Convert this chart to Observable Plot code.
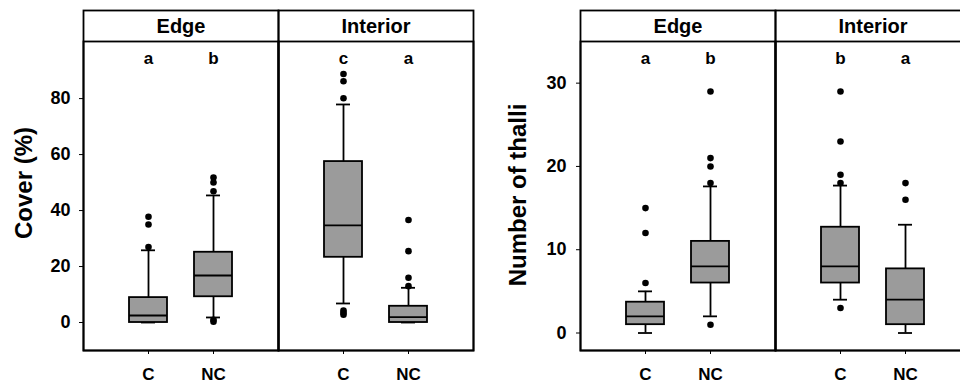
<!DOCTYPE html>
<html>
<head>
<meta charset="utf-8">
<script src="https://cdn.jsdelivr.net/npm/d3@7"></script>
<script src="https://cdn.jsdelivr.net/npm/@observablehq/plot@0.6"></script>
<style>
  html, body { margin: 0; padding: 0; background: #fff; }
  #wrap { position: relative; width: 960px; height: 384px; overflow: hidden; background: #fff; }
  #left { position: absolute; left: 0; top: 0; width: 480px; }
  #right { position: absolute; left: 480px; top: 0; width: 500px; }
  #wrap svg { max-width: none !important; }
</style>
</head>
<body>
<div id="wrap"><div id="left"></div><div id="right"></div></div>
<script>
// Panels and groups
const sites = ["Edge", "Interior"];
const treatments = ["C", "NC"];
// order of the stats arrays: Edge C, Edge NC, Interior C, Interior NC

// Left chart: Cover (%)
const coverTicks = [0, 20, 40, 60, 80];
const coverLow = [0, 1.8, 6.8, 0];
const coverQ1 = [0, 9.2, 23.3, 0];
const coverMed = [2.5, 16.8, 34.7, 1.9];
const coverQ3 = [8.9, 25.1, 57.5, 5.8];
const coverHigh = [25.8, 45.4, 77.9, 12.4];
const coverOutliers = [[27, 35, 37.8], [0.3, 1, 46.9, 50, 51.8], [2.8, 3.5, 4.3, 80.1, 86.2, 88.8], [13, 16, 25.5, 36.6]];
const coverLetters = ["a", "b", "c", "a"];

// Right chart: Number of thalli
const thalliTicks = [0, 10, 20, 30];
const thalliLow = [0, 2, 4, 0];
const thalliQ1 = [1, 6, 6, 1];
const thalliMed = [2, 8, 8, 4];
const thalliQ3 = [3.7, 11, 12.7, 7.7];
const thalliHigh = [5, 17.6, 17.7, 13];
const thalliOutliers = [[6, 12, 15], [1, 18, 20, 21, 29], [3, 18, 19, 23, 29], [16, 18]];
const thalliLetters = ["a", "b", "b", "a"];

const groups = sites.flatMap(s => treatments.map(t => ({site: s, trt: t})));

function makeRows(low, q1, med, q3, high, letters) {
  return groups.map((g, i) => ({...g, low: low[i], q1: q1[i], med: med[i], q3: q3[i], high: high[i], letter: letters[i]}));
}
function makeOut(outs) {
  return groups.flatMap((g, i) => outs[i].map(v => ({...g, v})));
}

const FONT = "'Liberation Sans', Arial, Helvetica, sans-serif";
const LW = 1.8;

function chart({rows, outs, ticks, yDomain, width, marginLeft, marginRight, title, titleDx, titleDy, tickPadding}) {
  return Plot.plot({
    width, height: 384,
    marginLeft, marginRight, marginTop: 41, marginBottom: 34,
    style: {fontFamily: FONT, fontWeight: "bold", fontSize: "16px", color: "black", background: "white", maxWidth: "none"},
    fx: {domain: sites, padding: 0, axis: null},
    x: {domain: treatments, paddingInner: 0.41, paddingOuter: 0.7},
    y: {domain: yDomain},
    marks: [
      Plot.frame({insetTop: -31, stroke: "black", strokeWidth: LW}),
      Plot.frame({stroke: "black", strokeWidth: LW}),
      Plot.text(sites, {fx: d => d, text: d => d, frameAnchor: "top", lineAnchor: "middle", dy: -15, fontSize: 20, fontWeight: "bold"}),
      Plot.ruleX(rows, {fx: "site", x: "trt", y1: "low", y2: "high", stroke: "black", strokeWidth: LW}),
      Plot.tickY(rows, {fx: "site", x: "trt", y: "low", insetLeft: 12, insetRight: 12, stroke: "black", strokeWidth: LW}),
      Plot.tickY(rows, {fx: "site", x: "trt", y: "high", insetLeft: 12, insetRight: 12, stroke: "black", strokeWidth: LW}),
      Plot.barY(rows, {fx: "site", x: "trt", y1: "q1", y2: "q3", fill: "#9b9b9b", stroke: "black", strokeWidth: LW}),
      Plot.tickY(rows, {fx: "site", x: "trt", y: "med", stroke: "black", strokeWidth: LW}),
      Plot.dot(outs, {fx: "site", x: "trt", y: "v", r: 3.3, fill: "black", stroke: "none"}),
      Plot.text(rows, {fx: "site", x: "trt", text: "letter", frameAnchor: "top", lineAnchor: "middle", dy: 17, fontSize: 17, fontWeight: "bold"}),
      Plot.axisY({ticks, tickSize: 4, tickPadding, label: null, fontSize: 18, fontWeight: "bold"}),
      Plot.axisX({tickSize: 4, tickPadding: 13, label: null, fontSize: 17, fontWeight: "bold"}),
      Plot.text([title], {fx: () => "Edge", text: d => d, frameAnchor: "left", textAnchor: "middle", lineAnchor: "middle", dx: titleDx, dy: titleDy, rotate: -90, fontSize: 24, fontWeight: "bold"})
    ]
  });
}

document.getElementById("left").append(chart({
  rows: makeRows(coverLow, coverQ1, coverMed, coverQ3, coverHigh, coverLetters),
  outs: makeOut(coverOutliers),
  ticks: coverTicks,
  yDomain: [-10, 100.4],
  width: 480, marginLeft: 82, marginRight: 7,
  title: "Cover (%)", titleDx: -59, titleDy: -13, tickPadding: 9
}));

document.getElementById("right").append(chart({
  rows: makeRows(thalliLow, thalliQ1, thalliMed, thalliQ3, thalliHigh, thalliLetters),
  outs: makeOut(thalliOutliers),
  ticks: thalliTicks,
  yDomain: [-2.1, 35],
  width: 500, marginLeft: 99, marginRight: 10,
  title: "Number of thalli", titleDx: -62, titleDy: -1, tickPadding: 10
}));
</script>
</body>
</html>
